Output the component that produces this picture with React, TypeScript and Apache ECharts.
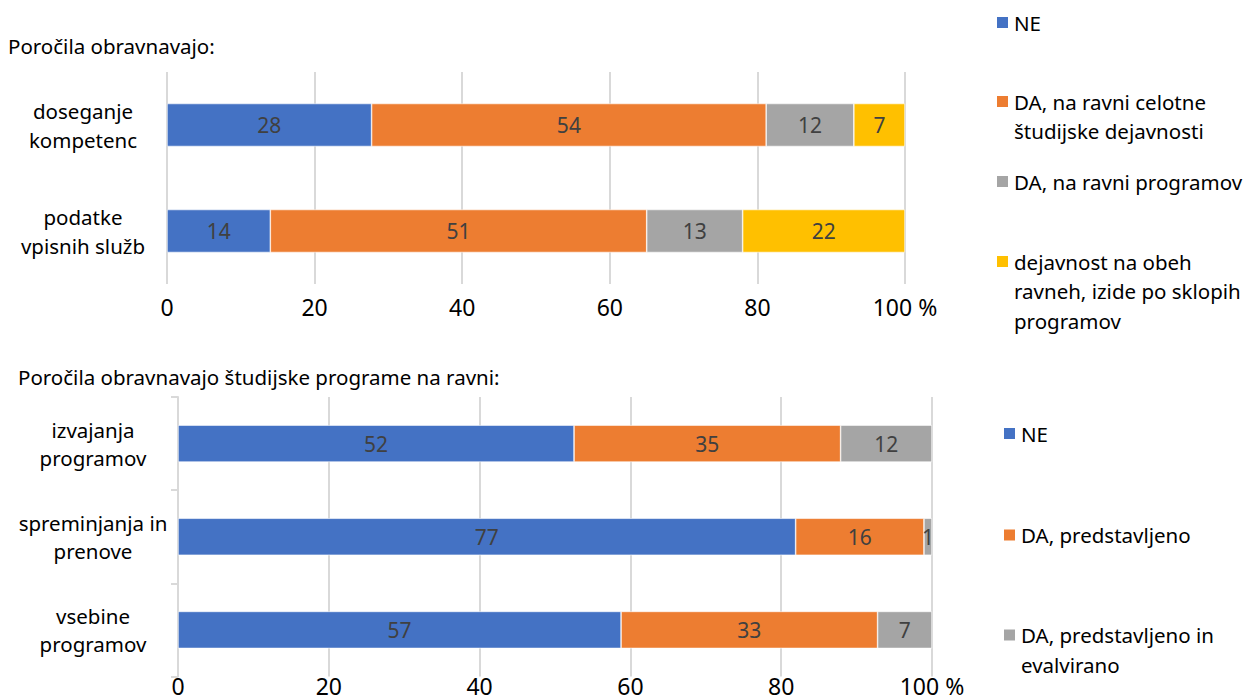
import React, { useEffect, useRef } from "react";
import * as echarts from "echarts";

// ---- Data ----
const topCategories = ["doseganje\nkompetenc", "podatke\nvpisnih služb"];
const topSeriesNames = [
  "NE",
  "DA, na ravni celotne študijske dejavnosti",
  "DA, na ravni programov",
  "dejavnost na obeh ravneh, izide po sklopih programov",
];
const topNE = [28, 14];
const topDACelotne = [54, 51];
const topDAProgramov = [12, 13];
const topObeh = [7, 22];

const bottomCategories = ["izvajanja\nprogramov", "spreminjanja in\nprenove", "vsebine\nprogramov"];
const bottomSeriesNames = ["NE", "DA, predstavljeno", "DA, predstavljeno in evalvirano"];
const bottomNE = [52, 77, 57];
const bottomDAPred = [35, 16, 33];
const bottomDAEval = [12, 1, 7];

const xTicks = [0, 20, 40, 60, 80, 100];

const topTitle = "Poročila obravnavajo:";
const bottomTitle = "Poročila obravnavajo študijske programe na ravni:";

const legendWrap: Record<string, string> = {
  "DA, na ravni celotne študijske dejavnosti": "DA, na ravni celotne\nštudijske dejavnosti",
  "dejavnost na obeh ravneh, izide po sklopih programov": "dejavnost na obeh\nravneh, izide po sklopih\nprogramov",
  "DA, predstavljeno in evalvirano": "DA, predstavljeno in\nevalvirano",
};

const COLORS = ["#4472C4", "#ED7D31", "#A5A5A5", "#FFC000"];
const FONT = "Noto Sans";

function toPercent(groups: number[][]): number[][] {
  const n = groups[0].length;
  const totals = Array.from({ length: n }, (_, i) => groups.reduce((s, g) => s + g[i], 0));
  return groups.map((g) => g.map((v, i) => (v / totals[i]) * 100));
}

export default function App() {
  const ref = useRef<HTMLDivElement>(null);

  useEffect(() => {
    document.body.style.margin = "0";
    if (!ref.current) return;
    const chart = echarts.init(ref.current, undefined, { renderer: "svg" });

    const topRaw = [topNE, topDACelotne, topDAProgramov, topObeh];
    const botRaw = [bottomNE, bottomDAPred, bottomDAEval];
    const topPct = toPercent(topRaw);
    const botPct = toPercent(botRaw);

    const lh = 29.5;
    // Legend text is centred on its icon; leading blank lines put the first
    // line of a wrapped label level with the icon, as in the reference.
    const legendText = (n: string) => {
      const t = legendWrap[n] || n;
      const lines = t.split("\n").length;
      return "\n".repeat(lines - 1) + t;
    };
    const mkLegend = (name: string, left: number, iconCenterY: number) => {
      const lines = legendText(name).split("\n").length;
      const boxH = lines * lh;
      return {
        data: [name],
        left,
        top: iconCenterY - boxH / 2,
        orient: "vertical",
        icon: "rect",
        itemWidth: 13,
        itemHeight: 13,
        itemGap: 0,
        padding: 0,
        selectedMode: false,
        formatter: legendText,
        textStyle: {
          fontFamily: FONT,
          fontSize: 20.5,
          lineHeight: lh,
          color: "#000",
        },
      };
    };

    const xAxisCommon = (gridIndex: number) => ({
      type: "value",
      gridIndex,
      min: 0,
      max: 100,
      interval: 20,
      axisLine: { show: false },
      axisTick: { show: false },
      splitLine: { show: true, lineStyle: { color: "#D9D9D9", width: 2 } },
      axisLabel: {
        fontFamily: FONT,
        fontSize: 23,
        lineHeight: 18,
        color: "#000",
        margin: gridIndex === 0 ? 14 : 0,
        formatter: (v: number) => (v === xTicks[xTicks.length - 1] ? `${v} %` : `${v}`),
      },
    });

    const labelFor = (raw: number[]) => ({
      show: true,
      position: "inside",
      fontFamily: FONT,
      fontSize: 21,
      color: "#404040",
      formatter: (p: any) => `${raw[p.dataIndex]}`,
    });

    const series: any[] = [];
    topSeriesNames.forEach((name, i) => {
      series.push({
        name,
        type: "bar",
        stack: "top",
        xAxisIndex: 0,
        yAxisIndex: 0,
        barWidth: 43,
        itemStyle: { color: COLORS[i], borderColor: "#fff", borderWidth: 0.6 },
        label: labelFor(topRaw[i]),
        data: topPct[i],
      });
    });
    bottomSeriesNames.forEach((name, i) => {
      series.push({
        name,
        type: "bar",
        stack: "bottom",
        xAxisIndex: 1,
        yAxisIndex: 1,
        barWidth: 37,
        itemStyle: { color: COLORS[i], borderColor: "#fff", borderWidth: 0.6 },
        label: labelFor(botRaw[i]),
        data: botPct[i],
      });
    });

    chart.setOption({
      animation: false,
      backgroundColor: "#fff",
      textStyle: { fontFamily: FONT },
      title: [
        {
          text: topTitle,
          left: 8,
          top: 35,
          padding: 0,
          textStyle: { fontFamily: FONT, fontSize: 20.5, fontWeight: "normal", color: "#000" },
        },
        {
          text: bottomTitle,
          left: 18,
          top: 366,
          padding: 0,
          textStyle: { fontFamily: FONT, fontSize: 20.5, fontWeight: "normal", color: "#000" },
        },
      ],
      legend: [
        mkLegend(topSeriesNames[0], 995, 22.5),
        mkLegend(topSeriesNames[1], 995, 101.5),
        mkLegend(topSeriesNames[2], 995, 181.5),
        mkLegend(topSeriesNames[3], 995, 261.5),
        mkLegend(bottomSeriesNames[0], 1002, 433.5),
        mkLegend(bottomSeriesNames[1], 1002, 535),
        mkLegend(bottomSeriesNames[2], 1002, 635),
      ],
      grid: [
        { left: 167, width: 738, top: 72, height: 212 },
        { left: 178, width: 754, top: 397, height: 281 },
      ],
      xAxis: [xAxisCommon(0), xAxisCommon(1)],
      yAxis: [
        {
          type: "category",
          gridIndex: 0,
          inverse: true,
          data: topCategories,
          axisLine: { show: false },
          axisTick: { show: false },
          axisLabel: {
            align: "center",
            margin: 84,
            fontFamily: FONT,
            fontSize: 20.5,
            lineHeight: 29,
            color: "#000",
          },
        },
        {
          type: "category",
          gridIndex: 1,
          inverse: true,
          data: bottomCategories,
          axisLine: { show: true, lineStyle: { color: "#D9D9D9", width: 2 } },
          axisTick: { show: true, length: 7, lineStyle: { color: "#D9D9D9", width: 2 } },
          axisLabel: {
            align: "center",
            margin: 85,
            fontFamily: FONT,
            fontSize: 20.5,
            lineHeight: 28,
            color: "#000",
          },
        },
      ],
      series,
    });

    return () => chart.dispose();
  }, []);

  return <div ref={ref} style={{ width: 1248, height: 697 }} />;
}
